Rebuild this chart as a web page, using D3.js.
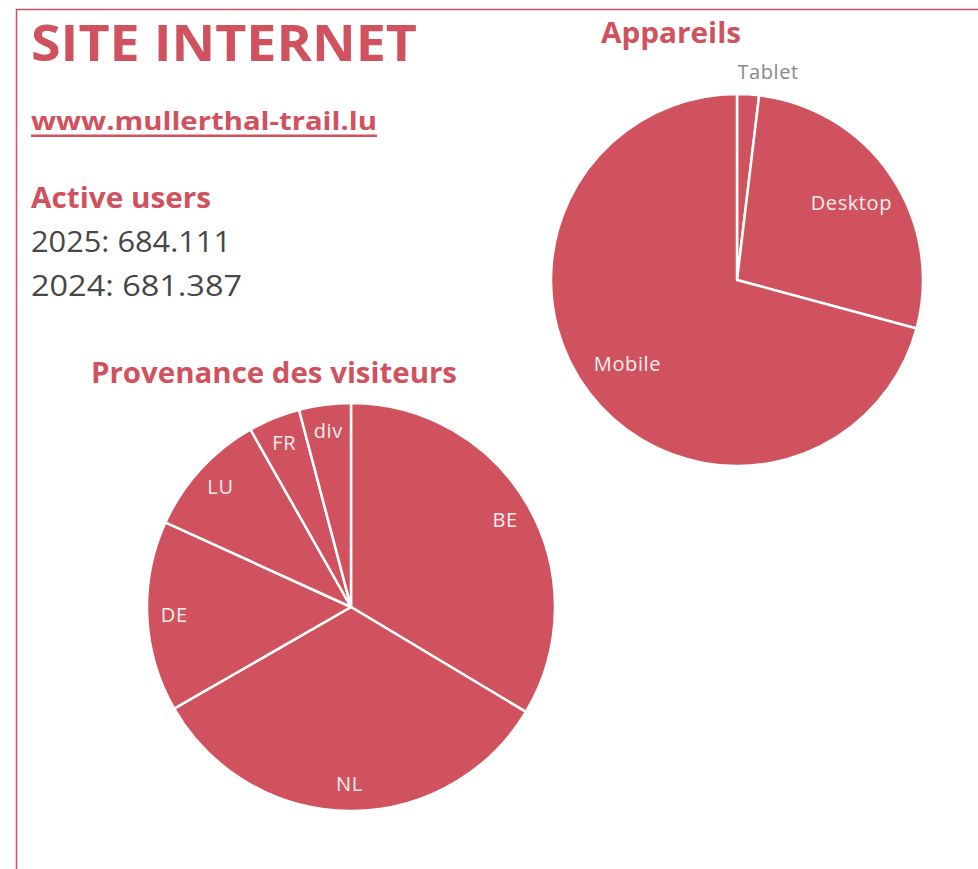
<!DOCTYPE html>
<html>
<head>
<meta charset="utf-8">
<script src="https://cdn.jsdelivr.net/npm/d3@7"></script>
<style>
  body { margin: 0; background: #fff; }
  svg { display: block; font-family: "Open Sans", Lato, sans-serif; }
</style>
</head>
<body>
<svg id="chart" width="978" height="869"></svg>
<script>
const red = '#d0525f';

// Appareils (device share, %)
const deviceNames = ['Tablet', 'Desktop', 'Mobile'];
const deviceValues = [1.9, 27.3, 70.8];

// Provenance des visiteurs (%)
const countryNames = ['BE', 'NL', 'DE', 'LU', 'FR', 'div'];
const countryValues = [33.6, 33.1, 15.1, 10.0, 4.1, 4.1];

const activeUsers = [
  { year: '2025', value: '684.111' },
  { year: '2024', value: '681.387' }
];

const svg = d3.select('svg#chart');

// the original font is wider than anything installed, so stretch to its width
function label(x, y, txt, size, weight, color, width) {
  const t = svg.append('text')
    .attr('x', x).attr('y', y)
    .attr('fill', color)
    .style('font-size', size + 'px')
    .style('font-weight', weight)
    .text(txt);
  if (width) t.attr('textLength', width).attr('lengthAdjust', 'spacingAndGlyphs');
  return t;
}

// frame
svg.append('path')
  .attr('d', 'M16.5,869 L16.5,9.5 L978,9.5')
  .attr('fill', 'none')
  .attr('stroke', red)
  .attr('stroke-width', 1.5);

label(31, 61, 'SITE INTERNET', 50, 700, red, 386);
label(31, 130, 'www.mullerthal-trail.lu', 25, 700, red, 346);
svg.append('rect')
  .attr('x', 31).attr('y', 134.5)
  .attr('width', 346).attr('height', 2.5)
  .attr('fill', red);

label(31, 208, 'Active users', 28, 700, red, 180);

svg.selectAll('text.users').data(activeUsers).enter()
  .append('text')
    .attr('class', 'users')
    .attr('x', 31)
    .attr('y', (d, i) => 252 + i * 44)
    .attr('fill', '#474747')
    .style('font-size', '29px')
    .attr('textLength', (d, i) => i === 0 ? 200 : 211)
    .attr('lengthAdjust', 'spacingAndGlyphs')
    .text(d => `${d.year}: ${d.value}`);

function drawPie(opts) {
  const { names, values, cx, cy, r, labelR, title, titleX, titleY, titleW, outside } = opts;
  const data = names.map((n, i) => ({ name: n, value: values[i] }));
  const pie = d3.pie().sort(null).value(d => d.value);
  const arc = d3.arc().innerRadius(0).outerRadius(r);
  const labelArc = d3.arc().innerRadius(labelR).outerRadius(labelR);
  const outArc = d3.arc().innerRadius(r + 22).outerRadius(r + 22);

  label(titleX, titleY, title, 28, 700, red, titleW);

  const g = svg.append('g').attr('transform', `translate(${cx},${cy})`);
  const arcs = pie(data);

  g.selectAll('path').data(arcs).enter()
    .append('path')
      .attr('d', arc)
      .attr('fill', red)
      .attr('stroke', '#fff')
      .attr('stroke-width', 2.5)
      .attr('stroke-linejoin', 'round');

  g.selectAll('text').data(arcs).enter()
    .append('text')
      .attr('transform', d => {
        const c = (outside.includes(d.data.name) ? outArc : labelArc).centroid(d);
        return `translate(${c})`;
      })
      .attr('dy', '0.35em')
      .attr('text-anchor', d => outside.includes(d.data.name) ? 'start' : 'middle')
      .attr('dx', d => outside.includes(d.data.name) ? -12 : 0)
      .attr('fill', d => outside.includes(d.data.name) ? '#8a8a8a' : '#fbeef0')
      .style('font-size', '20px')
      .style('letter-spacing', '0.6px')
      .text(d => d.data.name);
}

drawPie({
  names: deviceNames, values: deviceValues,
  cx: 737, cy: 280, r: 186, labelR: 138,
  title: 'Appareils', titleX: 601, titleY: 43, titleW: 140,
  outside: ['Tablet']
});

drawPie({
  names: countryNames, values: countryValues,
  cx: 351, cy: 607, r: 204, labelR: 177,
  title: 'Provenance des visiteurs', titleX: 91, titleY: 383, titleW: 366,
  outside: []
});
</script>
</body>
</html>
